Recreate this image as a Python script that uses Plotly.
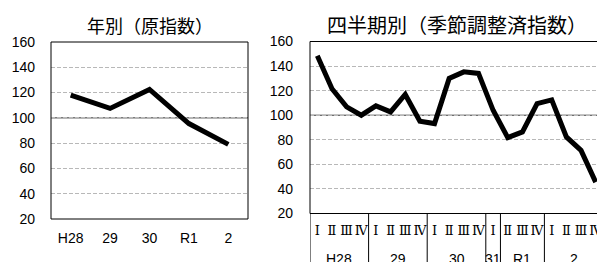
import plotly.graph_objects as go

# ---- data ----
years = ["H28", "29", "30", "R1", "2"]
annual_index = [118, 107.5, 122.5, 95.5, 79]

quarter_labels = ["Ⅰ", "Ⅱ", "Ⅲ", "Ⅳ",
                  "Ⅰ", "Ⅱ", "Ⅲ", "Ⅳ",
                  "Ⅰ", "Ⅱ", "Ⅲ", "Ⅳ",
                  "Ⅰ",
                  "Ⅱ", "Ⅲ", "Ⅳ",
                  "Ⅰ", "Ⅱ", "Ⅲ", "Ⅳ"]
quarterly_index = [148.4, 121.5, 106.8, 100, 107.6, 102.7, 116.9, 95.1, 93.2, 130,
                   135.3, 134, 104, 81.8, 86.4, 109.5, 112.5, 82.3, 71.4, 45.5]
year_groups = ["H28", "29", "30", "31", "R1", "2"]
group_sizes = [4, 4, 4, 1, 3, 4]

title_left = "年別（原指数）"
title_right = "四半期別（季節調整済指数）"

# ---- geometry (pixels in the 605x262 window; page body has an 8px margin) ----
OFF = 8
W, H = 605 - OFF, 262 - OFF
def fx(p):
    return (p - OFF) / W
def fy(p):
    return 1 - (p - OFF) / H
def px_x(a, b):
    return [fx(a), fx(b)]
def px_y(top, bottom):
    return [fy(bottom), fy(top)]

tick_font = dict(family="Liberation Sans, Arial, sans-serif", size=14, color="#000")
grid_kw = dict(showgrid=True, gridcolor="#b8b8b8", griddash="4px,2px", gridwidth=1)

fig = go.Figure()

fig.add_trace(go.Scatter(
    x=list(range(len(years))), y=annual_index, mode="lines",
    line=dict(color="#000", width=5), xaxis="x", yaxis="y", showlegend=False))

fig.add_trace(go.Scatter(
    x=list(range(len(quarterly_index))), y=quarterly_index, mode="lines",
    line=dict(color="#000", width=5), xaxis="x2", yaxis="y2", showlegend=False))

left_dom = px_y(42, 219)
right_dom = px_y(41.5, 213.5)

fig.update_layout(
    width=W, height=H, autosize=False,
    margin=dict(l=0, r=0, t=0, b=0),
    paper_bgcolor="white", plot_bgcolor="white",
    xaxis=dict(domain=px_x(51, 248), range=[-0.5, len(years) - 0.5],
               tickvals=list(range(len(years))), ticktext=years,
               tickfont=tick_font, showgrid=False, zeroline=False, showline=False,
               ticks="", ticklabelstandoff=9, anchor="y", automargin=False),
    yaxis=dict(domain=left_dom, range=[20, 160], dtick=20, tickfont=tick_font,
               zeroline=False, showline=False, ticks="", ticklabelstandoff=15,
               anchor="x", automargin=False, **grid_kw),
    xaxis2=dict(domain=px_x(310, 603), range=[-0.5, len(quarterly_index) - 0.5],
                tickvals=list(range(len(quarterly_index))), ticktext=quarter_labels,
                tickfont=dict(family="DejaVu Serif, serif", size=13, color="#000"),
                tickangle=0, showgrid=False, zeroline=False, showline=False,
                ticks="", ticklabelstandoff=7, anchor="y2", automargin=False),
    yaxis2=dict(domain=right_dom, range=[20, 160], dtick=20, tickfont=tick_font,
                zeroline=False, showline=False, ticks="", ticklabelstandoff=16,
                anchor="x2", automargin=False, **grid_kw),
)

# 100 reference lines and plot frames
for xr, yr in (("x", "y"), ("x2", "y2")):
    fig.add_shape(type="line", xref=f"{xr} domain", yref=yr, x0=0, x1=1, y0=100, y1=100,
                  line=dict(color="#333", width=1), layer="below")
    fig.add_shape(type="rect", xref=f"{xr} domain", yref=f"{yr} domain",
                  x0=0, x1=1, y0=0, y1=1, line=dict(color="#000", width=1),
                  fillcolor="rgba(0,0,0,0)", layer="above")

# year group dividers and labels on the quarterly axis
bottom_frac = right_dom[0]
start = 0
bounds = [-0.5]
for name, n in zip(year_groups, group_sizes):
    center = start + (n - 1) / 2
    fig.add_annotation(x=center, y=fy(259), xref="x2", yref="paper",
                       xanchor="center", yanchor="middle",
                       text=name, showarrow=False,
                       font=dict(family="Liberation Sans, Arial, sans-serif", size=14, color="#000"))
    start += n
    bounds.append(start - 0.5)
for b in bounds:
    fig.add_shape(type="line", xref="x2", yref="paper", x0=b, x1=b, y0=-0.1, y1=bottom_frac,
                  line=dict(color="#000", width=1))

# titles
title_font = dict(family="Noto Sans CJK JP, sans-serif", color="#000")
fig.add_annotation(x=fx((51 + 248) / 2), y=fy(25), xref="paper", yref="paper",
                   xanchor="center", yanchor="middle",
                   text=title_left, showarrow=False, font=dict(size=18, **title_font))
fig.add_annotation(x=fx((310 + 603) / 2), y=fy(25), xref="paper", yref="paper",
                   xanchor="center", yanchor="middle",
                   text=title_right, showarrow=False, font=dict(size=20, **title_font))

fig.write_html("out.html")
